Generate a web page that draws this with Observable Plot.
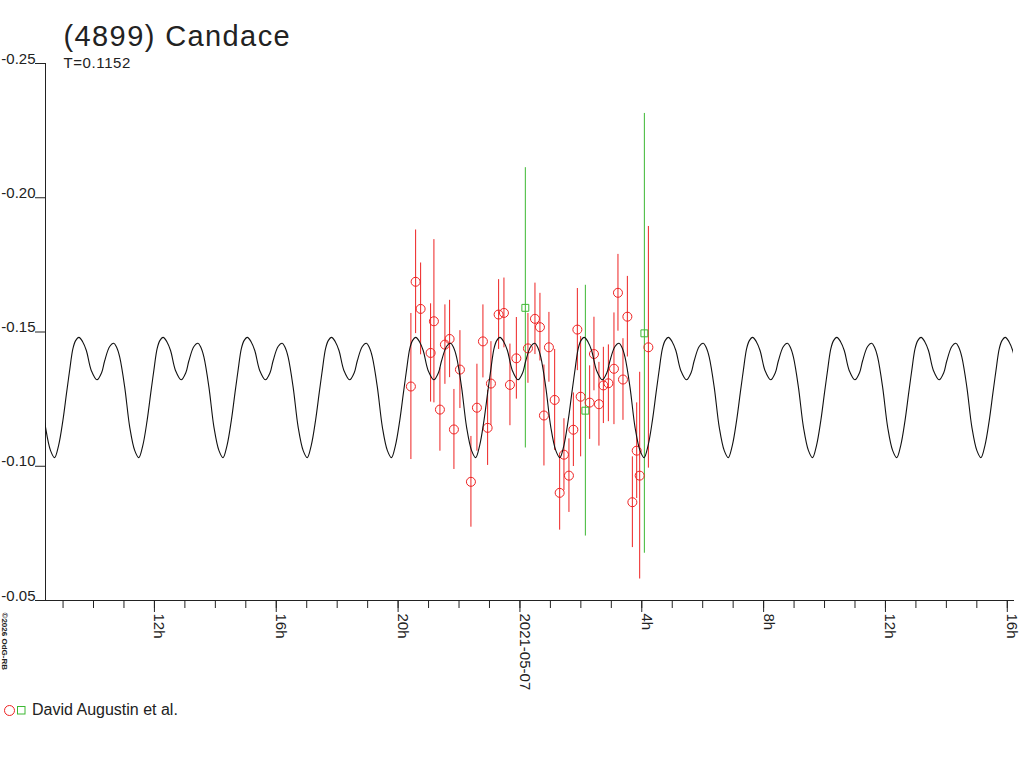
<!DOCTYPE html>
<html><head><meta charset="utf-8">
<script src="https://cdn.jsdelivr.net/npm/d3@7"></script>
<script src="https://cdn.jsdelivr.net/npm/@observablehq/plot@0.6"></script>
<style>
body{margin:0;background:#fff;font-family:"Liberation Sans",Arial,sans-serif;}
#wrap{position:relative;width:1024px;height:768px;overflow:hidden;background:#fff;}
#chart{position:absolute;left:0;top:0;}
#legsw{position:absolute;left:0;top:700px;}
#legtx{position:absolute;left:32px;top:701.5px;font-size:16px;line-height:16px;color:#222;white-space:nowrap;}
</style></head><body>
<div id="wrap"><div id="chart"></div>
<svg id="legsw" width="30" height="20"></svg><div id="legtx"></div></div>
<script>
// ---- text ----
const title = "(4899) Candace";
const subtitle = "T=0.1152";
const copyright = "\u00A92026 OdG-RB";
const legendLabel = "David Augustin et al.";

// ---- model light curve (period, epoch of deep minimum, one-period shape) ----
const periodDays = 0.1152;
const epochMin = "2021-05-07T04:04:30Z";
const shapePhase = [0, 0.0476, 0.0988, 0.1429, 0.1786, 0.2179, 0.25, 0.2893, 0.3333, 0.3774, 0.4369, 0.5036, 0.5595, 0.5952, 0.6548, 0.7024, 0.7381, 0.7738, 0.8333, 0.8929, 0.9524];
const shapeMag = [-0.1032, -0.1077, -0.1170, -0.1274, -0.1356, -0.1438, -0.1468, -0.1480, -0.1464, -0.1431, -0.1356, -0.1322, -0.1349, -0.1393, -0.1446, -0.1458, -0.1442, -0.1406, -0.1294, -0.1145, -0.1058];

// ---- observations: hours relative to 2021-05-07 00:00 UTC ----
const refDate = "2021-05-07T00:00:00Z";
const redHours = [-3.580,-3.425,-3.261,-2.933,-2.824,-2.627,-2.463,-2.309,-2.167,-1.970,-1.609,-1.412,-1.215,-1.061,-0.952,-0.700,-0.525,-0.328,-0.118,0.263,0.493,0.657,0.788,0.952,1.140,1.304,1.445,1.609,1.754,1.885,1.993,2.289,2.430,2.594,2.739,2.903,3.087,3.218,3.383,3.527,3.691,3.833,3.931,4.217];
const redMag = [-0.1297,-0.1687,-0.1586,-0.1422,-0.1540,-0.1211,-0.1453,-0.1474,-0.1137,-0.1360,-0.0942,-0.1218,-0.1465,-0.1143,-0.1308,-0.1565,-0.1571,-0.1303,-0.1402,-0.1439,-0.1549,-0.1518,-0.1189,-0.1443,-0.1247,-0.0901,-0.1043,-0.0965,-0.1136,-0.1509,-0.1259,-0.1237,-0.1418,-0.1231,-0.1301,-0.1309,-0.1363,-0.1646,-0.1323,-0.1557,-0.0866,-0.1058,-0.0965,-0.1443];
const redErr = [0.0272,0.0193,0.0171,0.0183,0.0304,0.0155,0.0148,0.0144,0.0149,0.0145,0.0169,0.0162,0.0136,0.0140,0.0156,0.0130,0.0130,0.0152,0.0152,0.0130,0.0133,0.0126,0.0188,0.0130,0.0188,0.0139,0.0134,0.0137,0.0137,0.0153,0.0224,0.0137,0.0137,0.0156,0.0142,0.0143,0.0208,0.0143,0.0152,0.0150,0.0169,0.0178,0.0385,0.0450];
const greenHours = [0.177, 2.148, 4.085];
const greenMag = [-0.1590, -0.1207, -0.1495];
const greenErr = [0.0522, 0.0467, 0.0819];

// ---- axes ----
const xStart = "2021-05-06T08:25:26Z";
const xEnd = "2021-05-07T16:12:14Z";
const yTicks = [-0.25, -0.20, -0.15, -0.10, -0.05];
const majorTickHours = [-12, -8, -4, 0, 4, 8, 12, 16];
const majorTickLabels = ["12h", "16h", "20h", "2021-05-07", "4h", "8h", "12h", "16h"];

const RED = "#ee2222", GREEN = "#3cb832", INK = "#222";
const HOUR = 3600e3;
const ref = new Date(refDate).getTime();
const toDate = h => new Date(ref + h * HOUR);
const red = redHours.map((h, i) => ({t: toDate(h), m: redMag[i], e: redErr[i]}));
const green = greenHours.map((h, i) => ({t: toDate(h), m: greenMag[i], e: greenErr[i]}));

const x0 = new Date(xStart), x1 = new Date(xEnd);
const P = periodDays * 24 * HOUR;
const ep = new Date(epochMin).getTime();
const kmin = Math.floor((x0 - ep) / P) - 1, kmax = Math.ceil((x1 - ep) / P) + 1;
const curve = [];
for (let k = kmin; k <= kmax; k++) {
  shapePhase.forEach((p, j) => curve.push({t: new Date(ep + (k + p) * P), m: shapeMag[j]}));
}

const minorTicks = d3.utcHour.range(d3.utcHour.ceil(x0), x1);
const majorTicks = majorTickHours.map((h, i) => ({t: toDate(h), label: majorTickLabels[i]}));

const chart = Plot.plot({
  width: 1024, height: 695,
  marginTop: 63, marginBottom: 95, marginLeft: 45, marginRight: 11,
  style: {fontFamily: '"Liberation Sans", Arial, sans-serif', color: INK, background: "#fff", overflow: "visible"},
  x: {type: "utc", domain: [x0, x1], axis: null},
  y: {domain: [-0.05, -0.25], axis: null},
  marks: [
    Plot.axisY({ticks: yTicks, tickSize: 10, tickPadding: 0, tickFormat: d => d.toFixed(2), lineAnchor: "bottom", fontSize: 15, label: null, stroke: INK}),
    Plot.frame({anchor: "left", stroke: INK}),
    Plot.frame({anchor: "bottom", stroke: INK}),
    Plot.axisX({ticks: minorTicks, tickSize: 8, tickFormat: () => "", label: null, stroke: INK}),
    Plot.axisX({ticks: majorTicks.map(d => d.t), tickSize: 12, tickFormat: () => "", label: null, stroke: INK}),
    Plot.text(majorTicks, {x: "t", text: "label", frameAnchor: "bottom", dy: 13, rotate: 90, textAnchor: "start", lineAnchor: "bottom", fontSize: 15, fill: INK}),
    Plot.ruleX(red, {x: "t", y1: d => d.m - d.e, y2: d => d.m + d.e, stroke: RED, strokeWidth: 1}),
    Plot.ruleX(green, {x: "t", y1: d => d.m - d.e, y2: d => d.m + d.e, stroke: GREEN, strokeWidth: 1}),
    Plot.dot(red, {x: "t", y: "m", r: 4.5, stroke: RED, fill: "none", strokeWidth: 1}),
    Plot.dot(green, {x: "t", y: "m", r: 3.9, symbol: "square", stroke: GREEN, fill: "none", strokeWidth: 1}),
    Plot.line(curve, {x: "t", y: "m", curve: "catmull-rom", stroke: "#111", strokeWidth: 1.1, clip: true}),
    Plot.text([title], {frameAnchor: "top-left", dx: 18, dy: -18, lineAnchor: "bottom", textAnchor: "start", fontSize: 29, fill: INK}),
    Plot.text([subtitle], {frameAnchor: "top-left", dx: 18, dy: 4, lineAnchor: "bottom", textAnchor: "start", fontSize: 15, fill: INK}),
    Plot.text([copyright], {frameAnchor: "bottom-left", dx: -44, dy: 12, rotate: 90, textAnchor: "start", lineAnchor: "bottom", fontSize: 8, fontWeight: "bold", fill: INK})
  ]
});
document.getElementById("chart").appendChild(chart);
d3.select(chart).selectAll("text").filter(function () { return this.textContent === title; }).attr("letter-spacing", "1.4px");
d3.select(chart).selectAll("text").filter(function () { return this.textContent === subtitle; }).attr("letter-spacing", "0.6px");

// legend
const sw = d3.select("#legsw");
sw.append("circle").attr("cx", 9.5).attr("cy", 10.5).attr("r", 5).attr("fill", "none").attr("stroke", RED);
sw.append("rect").attr("x", 17.5).attr("y", 6.5).attr("width", 7.5).attr("height", 7.5).attr("fill", "none").attr("stroke", GREEN);
document.getElementById("legtx").textContent = legendLabel;
</script></body></html>
